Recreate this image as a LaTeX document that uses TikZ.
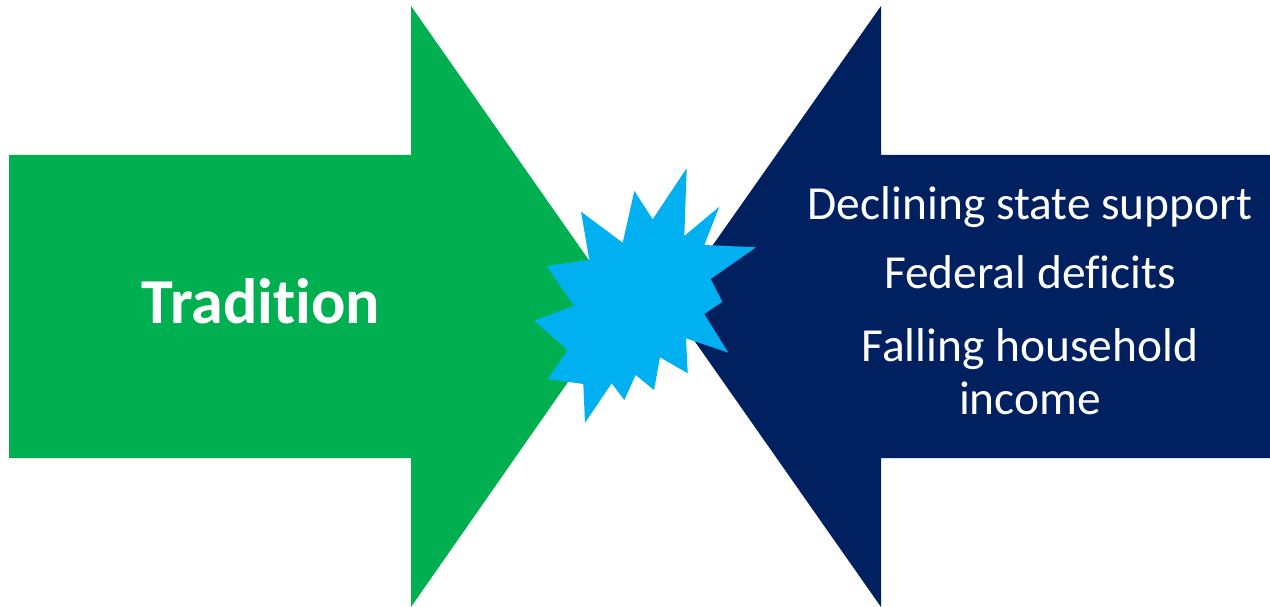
\documentclass[tikz,border=0pt]{standalone}
\usepackage{fontspec}
\setmainfont[RawFeature={-liga}]{Carlito}
\usetikzlibrary{positioning}

\definecolor{arrowgreen}{HTML}{00B050}
\definecolor{arrownavy}{HTML}{002060}
\definecolor{burstblue}{HTML}{00B0F0}

\tikzset{
  bigarrow/.style={draw=none},
  causetext/.style={text=white, font=\fontsize{27}{32}\selectfont, anchor=base, inner sep=0pt},
}

\begin{document}
\begin{tikzpicture}[x=0.02cm,y=-0.02cm]
    \useasboundingbox (0,0) rectangle (1270,607);
    % left arrow
    \fill[bigarrow,arrowgreen] (9,155) -- (411,155) -- (411,6) -- (621,306) -- (411,607) -- (411,458) -- (9,458) -- cycle;
    % right arrow
    \fill[bigarrow,arrownavy] (1270,155) -- (881,155) -- (881,6) -- (670,306) -- (881,607) -- (881,458) -- (1270,458) -- cycle;
    % the clash in the middle
    \fill[burstblue] (686.7,168.3) -- (684.3,236) -- (719.3,206.7) -- (704.3,245) -- (756,247.3)
        -- (710.7,279) -- (722.3,301.7) -- (704.3,314) -- (728.3,352.7) -- (686,338.3)
        -- (687.7,373.3) -- (660,357.3) -- (654,390) -- (635.7,375) -- (624.3,400)
        -- (611.7,383.3) -- (585,422.7) -- (583.3,384) -- (547.7,379) -- (567.7,350)
        -- (534.3,320.7) -- (574,305.7) -- (546.7,266) -- (589.3,260) -- (581,211.7)
        -- (622.7,242.7) -- (634.3,191) -- (652.7,219.3) -- cycle;

    \node[causetext, font=\fontsize{36.5}{42}\selectfont\bfseries] at (261,323.3) (tradition) {Tradition};

    \node[causetext] at (1030,220) (state) {Declining state support};
    \node[causetext] at (1030,288.3) (deficits) {Federal deficits};
    \node[causetext] at (1030,361.7) (falling) {Falling household};
    \node[causetext] at (1030,415) (income) {income};
\end{tikzpicture}
\end{document}
